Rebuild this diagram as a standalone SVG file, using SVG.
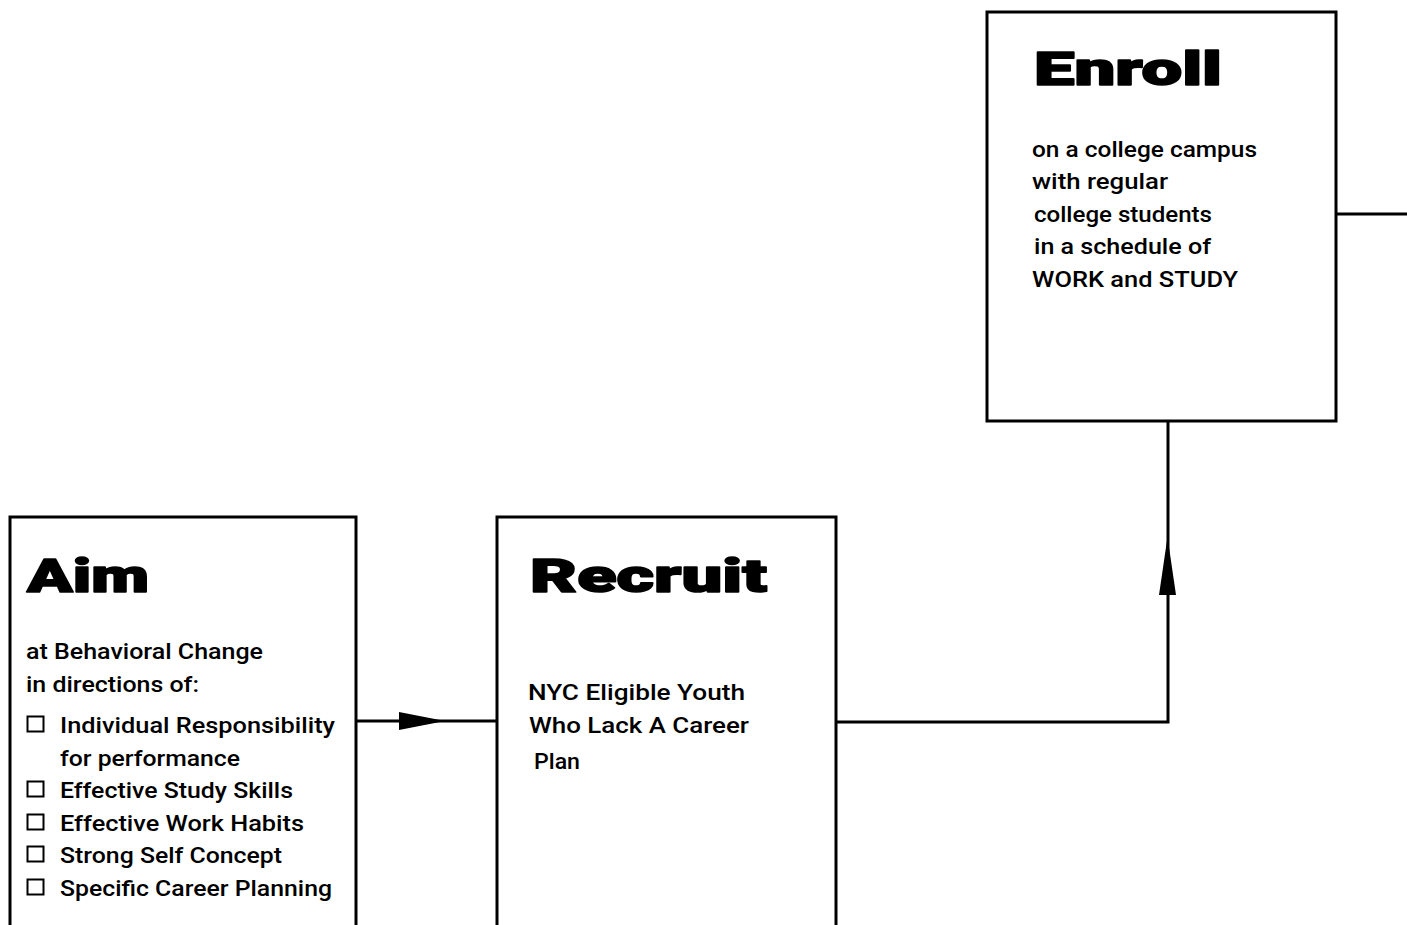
<svg xmlns="http://www.w3.org/2000/svg" width="1407" height="925" viewBox="0 0 1407 925">
<style>
.box{fill:#fff;stroke:#000;stroke-width:3}
.wire{fill:none;stroke:#000;stroke-width:3}
.head{fill:#000;stroke:none}
.title{font-family:Roboto,"DejaVu Sans","Liberation Sans",sans-serif;font-weight:900;font-size:47px;fill:#000;stroke:#000;stroke-width:1.6;stroke-linejoin:round}
.body{font-family:Roboto,"Liberation Sans",Arial,sans-serif;font-weight:500;font-size:22px;fill:#000}
.chk{fill:#fff;stroke:#000;stroke-width:2}
</style>
<rect width="1407" height="925" fill="#fff"/>
<g id="connectors">
<path class="wire" d="M356,721 H497"/>
<polygon class="head" points="399,712 445,721 399,730"/>
<path class="wire" d="M836,722 H1168 V421"/>
<polygon class="head" points="1159,595 1167.5,537 1176,595"/>
<path class="wire" d="M1336,214 H1407"/>
</g>
<g id="aim">
<rect class="box" x="10" y="517" width="346" height="430"/>
<text class="title" x="27" y="592" textLength="122" lengthAdjust="spacingAndGlyphs">Aim</text>
<text class="body" x="26" y="659" textLength="237" lengthAdjust="spacingAndGlyphs">at Behavioral Change</text>
<text class="body" x="26" y="692" textLength="173" lengthAdjust="spacingAndGlyphs">in directions of:</text>
<rect class="chk" x="27.5" y="716.5" width="16" height="15"/>
<text class="body" x="60" y="733" textLength="275" lengthAdjust="spacingAndGlyphs">Individual Responsibility</text>
<text class="body" x="60" y="766" textLength="180" lengthAdjust="spacingAndGlyphs">for performance</text>
<rect class="chk" x="27.5" y="781.5" width="16" height="15"/>
<text class="body" x="60" y="798" textLength="233" lengthAdjust="spacingAndGlyphs">Effective Study Skills</text>
<rect class="chk" x="27.5" y="814.5" width="16" height="15"/>
<text class="body" x="60" y="831" textLength="244" lengthAdjust="spacingAndGlyphs">Effective Work Habits</text>
<rect class="chk" x="27.5" y="846.5" width="16" height="15"/>
<text class="body" x="60" y="863" textLength="222" lengthAdjust="spacingAndGlyphs">Strong Self Concept</text>
<rect class="chk" x="27.5" y="879.5" width="16" height="15"/>
<text class="body" x="60" y="896" textLength="272" lengthAdjust="spacingAndGlyphs">Specific Career Planning</text>
</g>
<g id="recruit">
<rect class="box" x="497" y="517" width="339" height="430"/>
<text class="title" x="530" y="592" textLength="237" lengthAdjust="spacingAndGlyphs">Recruit</text>
<text class="body" x="528" y="700" textLength="217" lengthAdjust="spacingAndGlyphs">NYC Eligible Youth</text>
<text class="body" x="529" y="733" textLength="220" lengthAdjust="spacingAndGlyphs">Who Lack  A Career</text>
<text class="body" x="534" y="769" textLength="46" lengthAdjust="spacingAndGlyphs">Plan</text>
</g>
<g id="enroll">
<rect class="box" x="987" y="12" width="349" height="409"/>
<text class="title" x="1034" y="85" font-size="45" textLength="188" lengthAdjust="spacingAndGlyphs">Enroll</text>
<text class="body" x="1032" y="157" textLength="225" lengthAdjust="spacingAndGlyphs">on a college campus</text>
<text class="body" x="1032" y="189" textLength="136" lengthAdjust="spacingAndGlyphs">with regular</text>
<text class="body" x="1034" y="222" textLength="178" lengthAdjust="spacingAndGlyphs">college students</text>
<text class="body" x="1034" y="254" textLength="177" lengthAdjust="spacingAndGlyphs">in a schedule of</text>
<text class="body" x="1032" y="287" textLength="206" lengthAdjust="spacingAndGlyphs">WORK and STUDY</text>
</g>
</svg>
